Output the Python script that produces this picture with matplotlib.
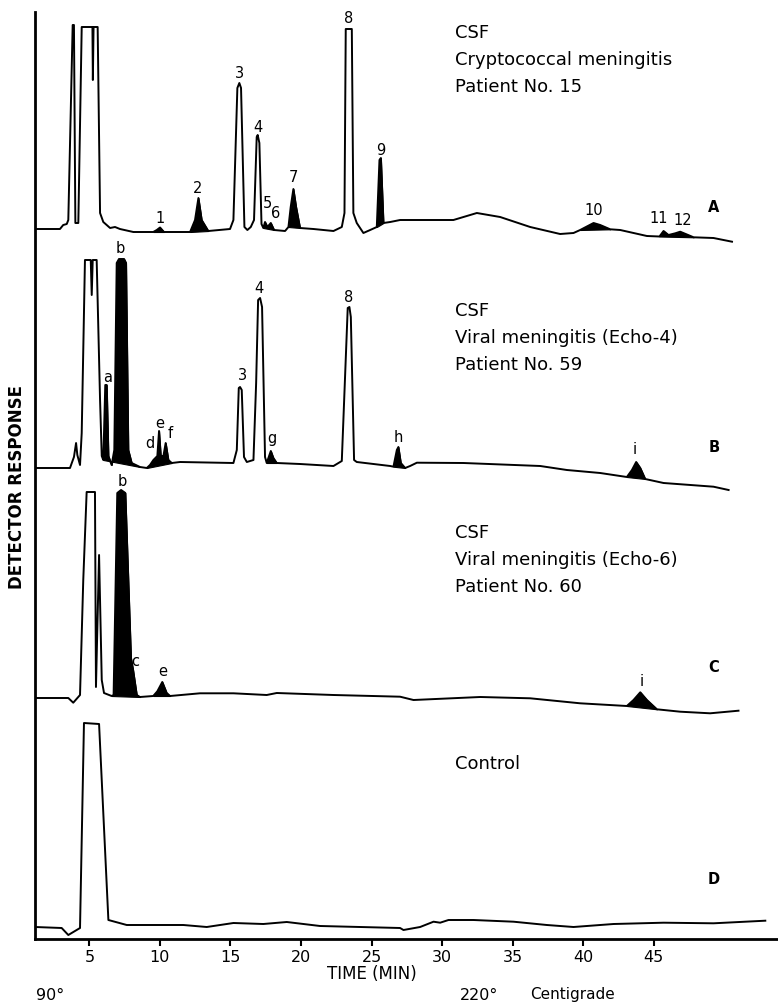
import numpy as np
import matplotlib
matplotlib.use("Agg")
import matplotlib.pyplot as plt

# retention time (min) and detector response for each run
tA = [1.15, 2.92, 3.15, 3.40, 3.51, 3.82, 3.91, 4.01, 4.22, 4.46, 5.17, 5.22, 5.25, 5.30,
      5.59, 5.76, 5.99, 6.47, 6.82, 7.17, 8.12, 9.53, 9.78, 10.01, 10.29, 11.90,
      12.14, 12.49, 12.73, 12.96, 13.43, 14.97, 15.21, 15.49, 15.63, 15.75, 15.99,
      16.20, 16.44, 16.67, 16.86, 16.93, 17.05, 17.20, 17.33, 17.45, 17.62, 17.86,
      18.09, 18.87, 19.11, 19.27, 19.46, 19.65, 19.93, 20.88, 22.30, 22.89, 23.08,
      23.17, 23.60, 23.71, 23.95, 24.42, 24.90, 25.37, 25.56, 25.66, 25.84, 26.32,
      27.02, 30.80, 32.46, 34.11, 36.24, 38.36, 39.31, 39.78, 40.73, 41.20, 41.91,
      42.62, 44.51, 45.40, 45.69, 46.04, 46.52, 46.87, 47.82, 49.23, 50.54]
rA = [3, 3, 7, 8, 12, 207, 207, 9, 9, 205, 205, 205, 152, 205,
      205, 19, 10, 4, 5, 3, 0, 0, 2, 4.5, 0, 0,
      0, 12, 34, 12, 1, 3, 12, 144, 149, 144, 5,
      2, 5, 12, 95, 97, 89, 8, 4, 10, 5, 9,
      2, 1, 5, 25, 43, 25, 4, 3, 1, 5, 19,
      203, 203, 19, 9, -1, 2, 5, 72, 74, 9, 10,
      12, 12, 19, 15, 5, -2, -1, 2, 9, 7, 2.7,
      2, -4, -4.5, 1, -3, -1.3, 0.3, -5.3, -6, -9.7]

tB = [1.15, 3.63, 3.91, 4.06, 4.15, 4.34, 4.46, 4.69, 5.10, 5.17, 5.24, 5.52, 5.76,
      5.88, 5.99, 6.13, 6.23, 6.35, 6.58, 6.77, 6.94, 7.10, 7.46, 7.60, 7.76, 8.00,
      8.59, 9.07, 9.30, 9.54, 9.82, 9.94, 10.06, 10.25, 10.41, 10.60, 10.84, 11.43,
      15.21, 15.45, 15.59, 15.68, 15.80, 15.96, 16.16, 16.63, 16.82, 16.96, 17.10,
      17.24, 17.45, 17.57, 17.69, 17.86, 18.04, 18.28, 19.93, 22.30, 22.89,
      23.31, 23.43, 23.53, 23.76, 23.95, 26.32, 26.55, 26.79, 26.90, 27.07, 27.38,
      27.73, 28.21, 31.51, 36.95, 38.84, 41.20, 43.09, 43.45, 43.75, 44.04, 44.39,
      45.69, 49.23, 50.30]
rB = [0, 0, 11, 25, 13, 3, 35, 208, 208, 173, 208, 208, 68,
      12, 8, 83, 83, 12, 3, 18, 205, 209, 209, 205, 18, 5,
      1, 0, 3, 8, 12, 37, 12, 12, 25, 8, 5, 6,
      5, 18, 80, 81, 78, 11, 6, 8, 85, 168, 170,
      161, 11, 5, 10, 17, 10, 5, 4, 2, 7,
      160, 161, 151, 8, 6, 2, 1.3, 18, 21, 5, 0,
      2, 5.3, 5, 2, -2, -5, -9, -2, 6, 0, -11,
      -15, -18.7, -22]

tC = [1.15, 3.51, 3.86, 4.34, 4.57, 4.81, 5.40, 5.47, 5.69, 5.88, 6.04, 6.58, 6.72,
      6.98, 7.25, 7.55, 7.95, 8.10, 8.36, 8.59, 9.53, 9.82, 10.17, 10.48, 10.72,
      12.84, 15.21, 17.57, 18.28, 22.30, 27.02, 27.97, 32.70, 36.24, 39.78, 43.09,
      43.56, 44.04, 44.51, 45.22, 46.87, 48.99, 51.00]
rC = [0, 0, -4.7, 3, 118, 206, 206, 11, 143, 18, 5, 2, 3,
      205, 208, 205, 40, 28, 3, 1, 2, 6.7, 16, 5, 2,
      4.7, 4.7, 3, 5, 3, 1.3, -2, 1, -0.3, -5.3, -8,
      -2, 5.7, -2, -11.3, -13.7, -15.3, -12.7]

tD = [1.15, 3.04, 3.51, 4.34, 4.62, 5.69, 6.35, 7.65, 11.66, 13.32, 15.21, 17.33,
      18.99, 21.35, 27.02, 27.26, 28.44, 29.39, 29.86, 30.45, 32.22, 35.06, 37.42,
      39.31, 42.15, 45.69, 49.23, 52.90]
rD = [0, -1, -8, -1, 204, 203, 7, 2, 2, 0, 4, 3,
      5, 1, -1, -3, 0, 5.3, 4.3, 7, 7, 5.3, 2,
      0, 3, 4.3, 3.7, 6.3]

# shaded (black) peak windows, minutes
fillA = [(9.53, 10.29), (12.14, 13.43), (17.33, 18.09), (19.11, 19.93),
         (25.37, 25.84), (39.78, 41.91), (45.40, 47.82)]
fillB = [(5.99, 8.59), (9.07, 10.84), (17.57, 18.28), (26.55, 27.38), (43.09, 44.39)]
fillC = [(6.58, 8.59), (9.53, 10.72), (43.09, 45.22)]
fillD = []

# peak labels: text, time, height
labA = [("1", 10.01, 721), ("2", 12.70, 751), ("3", 15.61, 866), ("4", 16.96, 812),
        ("5", 17.60, 736), ("6", 18.23, 726), ("7", 19.44, 762), ("8", 23.34, 921),
        ("9", 25.68, 789), ("10", 40.71, 729), ("11", 45.31, 721), ("12", 47.02, 719)]
labB = [("b", 7.17, 691), ("a", 6.32, 562), ("d", 9.30, 496), ("e", 10.01, 516),
        ("f", 10.72, 505), ("3", 15.82, 564), ("4", 17.03, 651), ("g", 17.95, 500),
        ("8", 23.34, 642), ("h", 26.88, 501), ("i", 43.68, 489)]
labC = [("b", 7.32, 457), ("c", 8.24, 277), ("e", 10.22, 267), ("i", 44.11, 258)]
labD = []

panel_letters = ["A", "B", "C", "D"]
panel_notes = [["CSF", "Cryptococcal meningitis", "Patient No. 15"],
               ["CSF", "Viral meningitis (Echo-4)", "Patient No. 59"],
               ["CSF", "Viral meningitis (Echo-6)", "Patient No. 60"],
               ["Control"]]

xticks = [5, 10, 15, 20, 25, 30, 35, 40, 45]

# layout
offsets = [707, 471, 241, 12]
note_top = [906, 628, 406, 175]
letter_h = [732, 492, 271, 59]

plt.rcParams['font.family'] = ['DejaVu Sans']
fig = plt.figure(figsize=(7.78, 10.07), dpi=100)
ax = fig.add_axes([35 / 778, 68 / 1007, 743 / 778, 927 / 1007])
ax.set_xlim(1.15, 53.8)
ax.set_ylim(0, 927)

runs = [(tA, rA, fillA, labA), (tB, rB, fillB, labB),
        (tC, rC, fillC, labC), (tD, rD, fillD, labD)]

for k, (t, r, fills, labs) in enumerate(runs):
    t = np.array(t)
    y = np.array(r) + offsets[k]
    ax.plot(t, y, color='black', lw=1.4, solid_joinstyle='round')
    for t0, t1 in fills:
        m = (t >= t0 - 1e-6) & (t <= t1 + 1e-6)
        tt, yy = t[m], y[m]
        base = np.interp(tt, [tt[0], tt[-1]], [yy[0], yy[-1]])
        ax.fill_between(tt, base, yy, color='black', lw=0.8, edgecolor='black')
    for txt, tl, hl in labs:
        ax.text(tl, hl, txt, ha='center', va='center', fontsize=10.5)
    for i, line in enumerate(panel_notes[k]):
        ax.text(30.93, note_top[k] - 27 * i, line, ha='left', va='center', fontsize=13)
    ax.text(49.25, letter_h[k], panel_letters[k], ha='center', va='center',
            fontsize=10.5, fontweight='bold')

for s in ['top', 'right']:
    ax.spines[s].set_visible(False)
ax.spines['left'].set_linewidth(2)
ax.spines['bottom'].set_linewidth(2)
ax.set_yticks([])
ax.set_xticks(xticks)
ax.set_xticklabels([str(v) for v in xticks], fontsize=11.5)
ax.tick_params(axis='x', direction='out', length=5, width=1.5, pad=3)

ax.text(25.0, -35, "TIME (MIN)", ha='center', va='center', fontsize=12, clip_on=False)
fig.text(36 / 778, 1 - 996 / 1007, "90°", ha='left', va='center', fontsize=11.5)
fig.text(460 / 778, 1 - 995 / 1007, "220°", ha='left', va='center', fontsize=11.5)
fig.text(530 / 778, 1 - 995 / 1007, "Centigrade", ha='left', va='center', fontsize=11)
fig.text(17 / 778, 1 - 487 / 1007, "DETECTOR RESPONSE", rotation=90, ha='center',
         va='center', fontsize=12, fontweight='bold')

fig.savefig("out.png", dpi=100)
